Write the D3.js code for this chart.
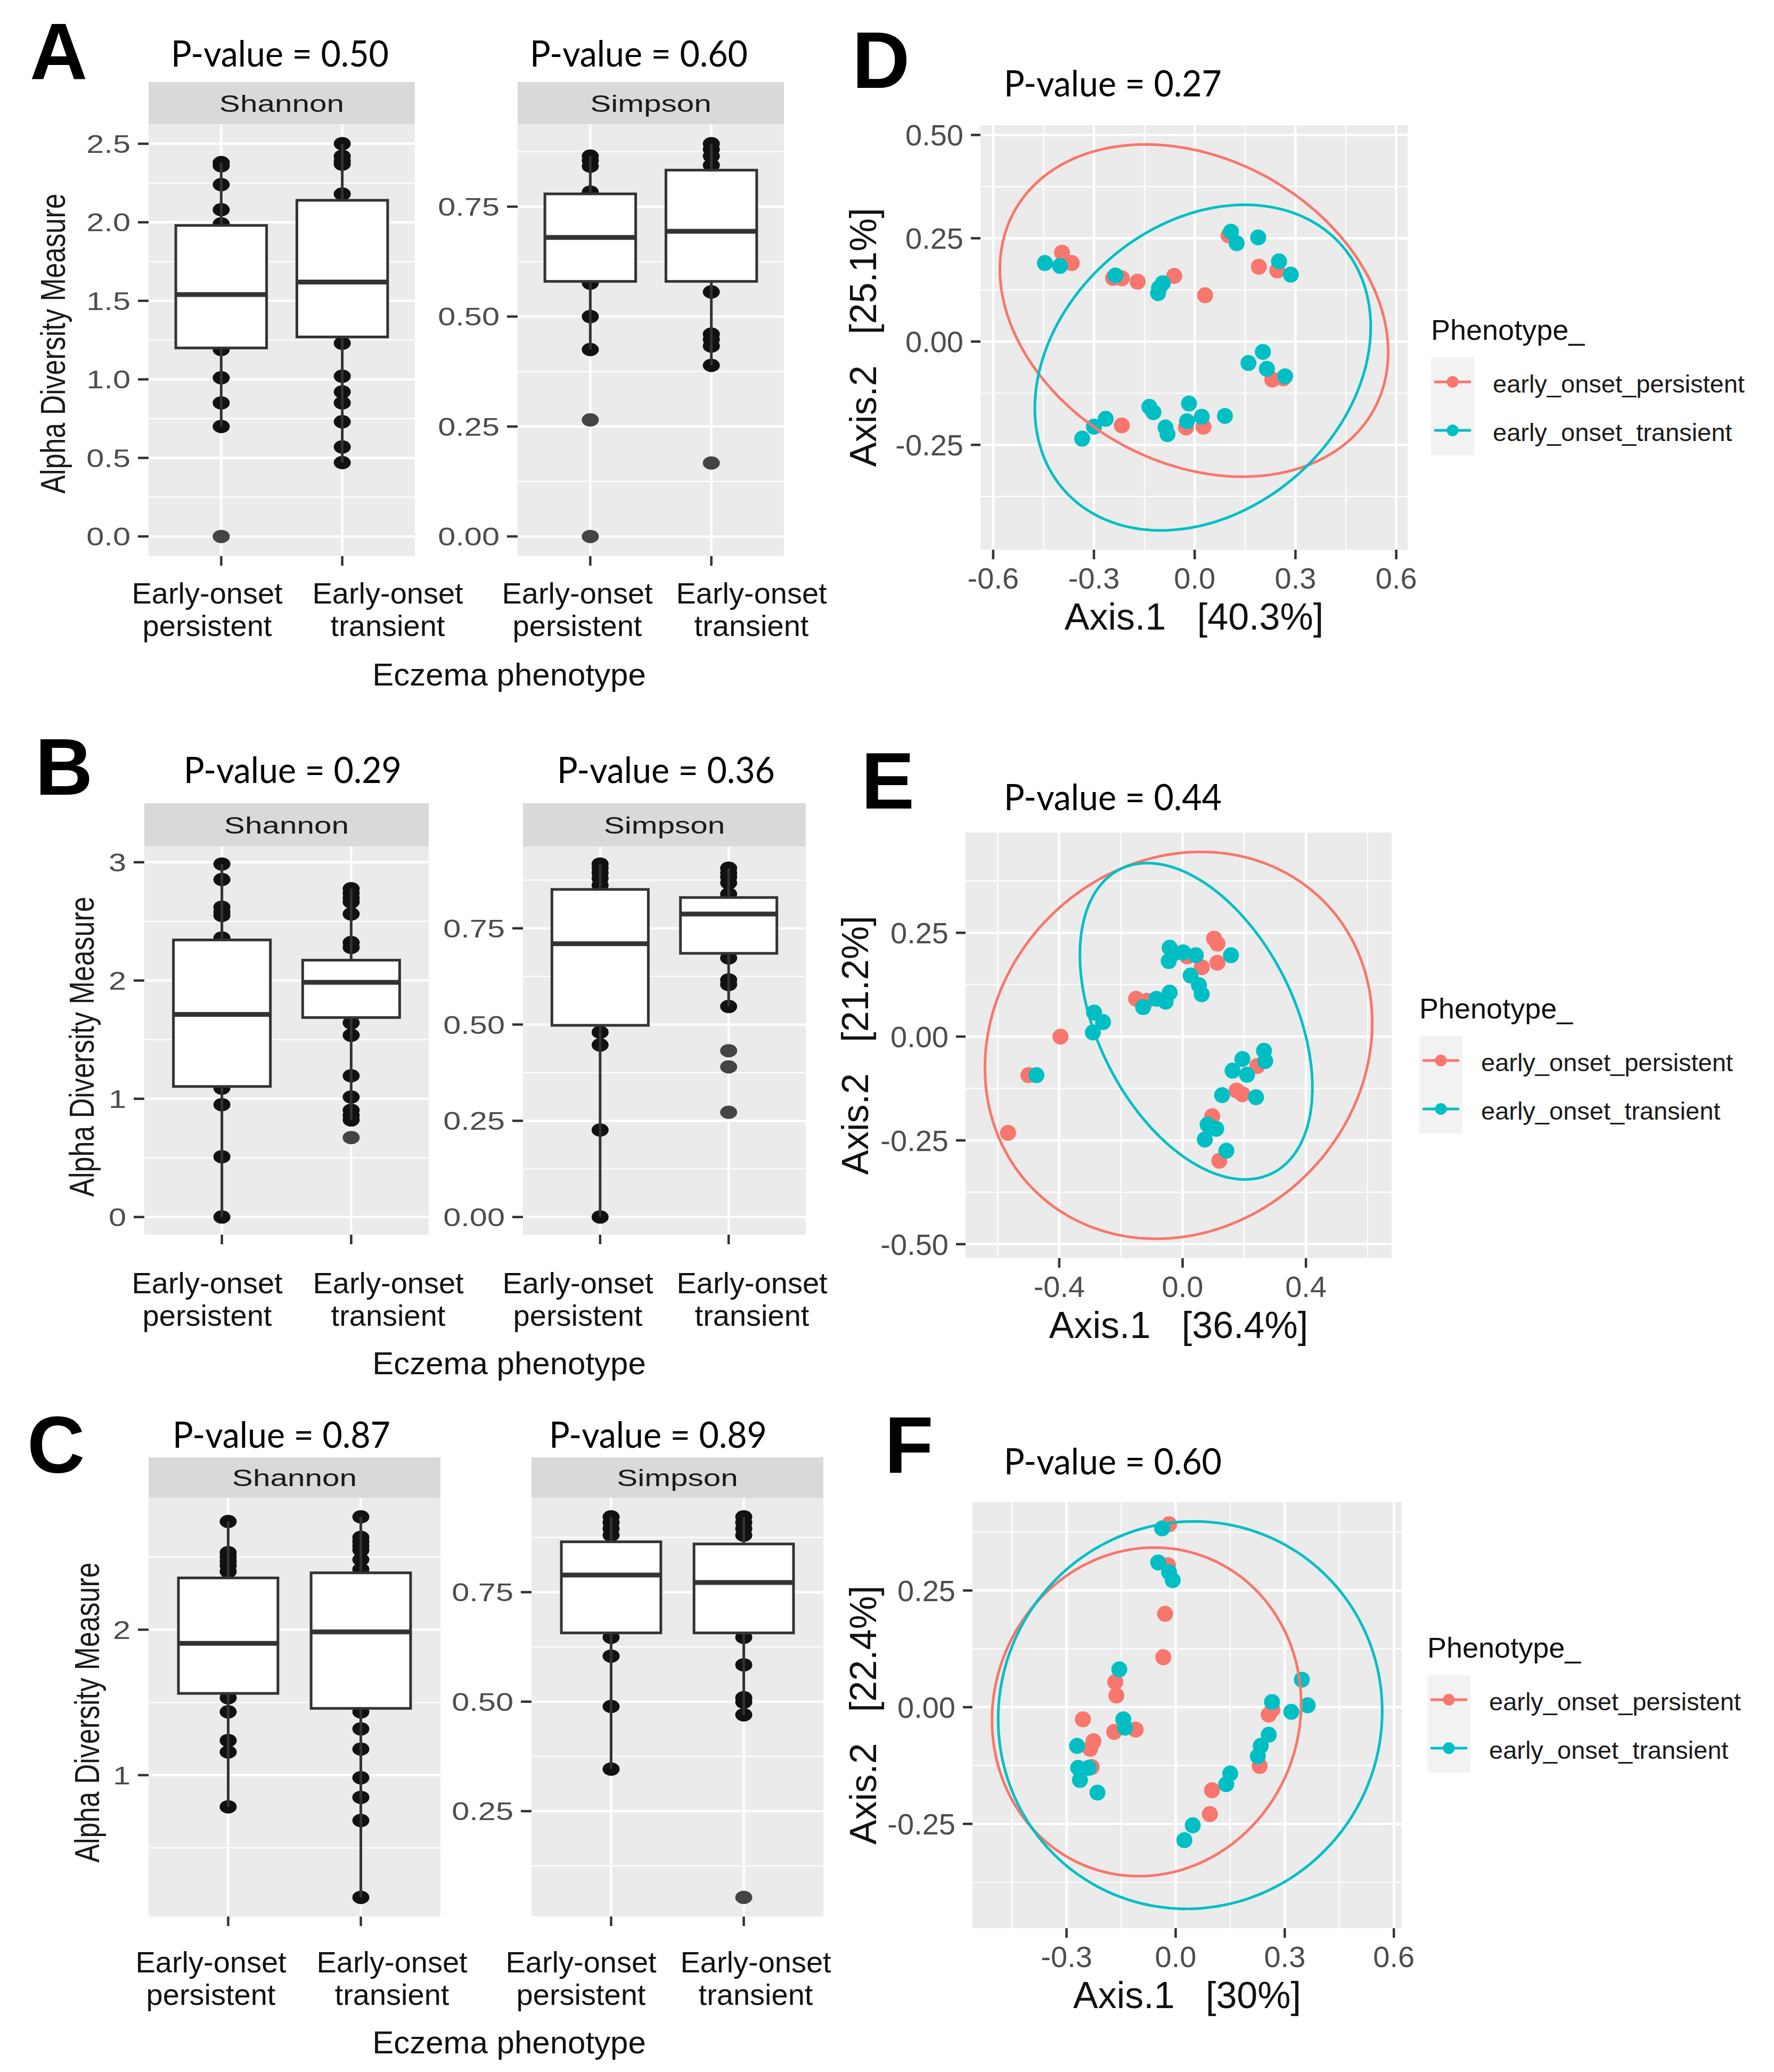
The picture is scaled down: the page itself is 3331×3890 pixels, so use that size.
<!DOCTYPE html>
<html>
<head>
<meta charset="utf-8">
<script src="https://cdn.jsdelivr.net/npm/d3@7"></script>
<style>
  body { margin: 0; background: #fff; }
  svg { display: block; }
</style>
</head>
<body>
<svg id="fig" width="3331" height="3890"></svg>
<script>
// ---- categories ----
const groups = ["persistent", "transient"];
const metrics = ["Shannon", "Simpson"];
const phenotypes = ["early_onset_persistent", "early_onset_transient"];
const colors = ["#F8766D", "#00BFC4"];
const catLabels = [["Early-onset", "persistent"], ["Early-onset", "transient"]];

// ---- alpha diversity, row A ----
const shannonA_pers = [2.38, 2.36, 2.24, 2.08, 1.99, 1.19, 1.01, 0.85, 0.70, 0.00];
const shannonA_trans = [2.50, 2.42, 2.39, 2.37, 2.18, 1.23, 1.02, 0.92, 0.85, 0.73, 0.57, 0.47];
const simpsonA_pers = [0.865, 0.855, 0.842, 0.783, 0.576, 0.50, 0.425, 0.265, 0.0];
const simpsonA_trans = [0.893, 0.880, 0.865, 0.844, 0.556, 0.46, 0.448, 0.433, 0.389, 0.167];
// [lower whisker, q1, median, q3, upper whisker]
const shannonA_box = [[0.70, 1.20, 1.54, 1.98, 2.38], [0.47, 1.27, 1.62, 2.14, 2.50]];
const simpsonA_box = [[0.425, 0.58, 0.68, 0.779, 0.865], [0.389, 0.58, 0.694, 0.833, 0.893]];
const shannonTicksA = [0, 0.5, 1, 1.5, 2, 2.5];
const simpsonTicksA = [0, 0.25, 0.5, 0.75];

// ---- alpha diversity, row B ----
const shannonB_pers = [2.985, 2.854, 2.62, 2.58, 2.55, 2.36, 1.09, 0.95, 0.51, 0.0];
const shannonB_trans = [2.776, 2.739, 2.701, 2.664, 2.563, 2.321, 2.28, 1.642, 1.537, 1.194, 1.015, 0.903, 0.858, 0.821, 0.672];
const simpsonB_pers = [0.917, 0.906, 0.894, 0.880, 0.862, 0.48, 0.447, 0.226, 0.0];
const simpsonB_trans = [0.906, 0.894, 0.883, 0.868, 0.839, 0.673, 0.616, 0.604, 0.547, 0.432, 0.390, 0.272];
const shannonB_box = [[0.0, 1.104, 1.713, 2.343, 2.985], [0.821, 1.687, 1.985, 2.172, 2.776]];
const simpsonB_box = [[0.0, 0.498, 0.71, 0.851, 0.917], [0.547, 0.685, 0.787, 0.830, 0.906]];
const shannonTicksB = [0, 1, 2, 3];
const simpsonTicksB = [0, 0.25, 0.5, 0.75];

// ---- alpha diversity, row C ----
const shannonC_pers = [2.744, 2.53, 2.50, 2.47, 2.44, 2.40, 1.532, 1.435, 1.238, 1.159, 0.782];
const shannonC_trans = [2.776, 2.635, 2.606, 2.576, 2.547, 2.482, 2.415, 1.435, 1.318, 1.179, 0.982, 0.847, 0.688, 0.159];
const simpsonC_pers = [0.922, 0.909, 0.895, 0.880, 0.647, 0.604, 0.489, 0.346];
const simpsonC_trans = [0.922, 0.909, 0.895, 0.880, 0.647, 0.584, 0.509, 0.499, 0.470, 0.053];
const shannonC_box = [[0.782, 1.562, 1.906, 2.356, 2.744], [0.159, 1.459, 1.985, 2.391, 2.776]];
const simpsonC_box = [[0.346, 0.657, 0.789, 0.865, 0.922], [0.470, 0.657, 0.772, 0.860, 0.922]];
const shannonTicksC = [1, 2];
const simpsonTicksC = [0.25, 0.5, 0.75];

// ---- PCoA D ----
const pcoaD_pers = [[-0.395, 0.215], [-0.366, 0.190], [-0.243, 0.154], [-0.217, 0.153], [-0.170, 0.145],
  [-0.061, 0.159], [0.031, 0.112], [0.101, 0.257], [0.191, 0.181], [0.246, 0.172], [0.231, -0.092],
  [0.264, -0.089], [-0.217, -0.203], [-0.026, -0.208], [0.026, -0.206]];
const pcoaD_trans = [[-0.446, 0.190], [-0.401, 0.183], [-0.236, 0.160], [-0.106, 0.130], [-0.095, 0.141],
  [-0.109, 0.117], [0.108, 0.266], [0.125, 0.238], [0.189, 0.252], [0.251, 0.194], [0.286, 0.162],
  [0.160, -0.052], [0.203, -0.025], [0.215, -0.066], [0.269, -0.084], [-0.335, -0.235], [-0.300, -0.206],
  [-0.265, -0.187], [-0.135, -0.158], [-0.123, -0.171], [-0.087, -0.208], [-0.081, -0.224], [-0.017, -0.150],
  [-0.023, -0.193], [0.021, -0.182], [0.090, -0.180]];
// ellipse: [centre x, centre y, half width, half height, cos of phase]
const ellipseD = [[-0.002, 0.075, 0.578, 0.402, -0.25], [0.024, -0.063, 0.50, 0.394, 0.25]];

// ---- PCoA E ----
const pcoaE_pers = [[0.102, 0.236], [0.113, 0.224], [0.113, 0.178], [0.062, 0.167], [0.015, 0.193],
  [-0.151, 0.091], [-0.117, 0.086], [-0.396, 0.0], [-0.50, -0.093], [-0.566, -0.232], [0.242, -0.071],
  [0.175, -0.130], [0.194, -0.139], [0.096, -0.192], [0.119, -0.299]];
const pcoaE_trans = [[-0.042, 0.214], [-0.026, 0.201], [0.002, 0.203], [0.043, 0.196], [-0.045, 0.182],
  [0.157, 0.196], [0.026, 0.147], [0.053, 0.124], [0.062, 0.102], [-0.042, 0.106], [-0.055, 0.084],
  [-0.085, 0.091], [-0.128, 0.071], [-0.287, 0.058], [-0.258, 0.035], [-0.291, 0.010], [-0.474, -0.093],
  [0.264, -0.034], [0.268, -0.059], [0.194, -0.054], [0.209, -0.092], [0.162, -0.082], [0.128, -0.141],
  [0.238, -0.146], [0.081, -0.212], [0.109, -0.222], [0.072, -0.248], [0.142, -0.275]];
const ellipseE = [[-0.013, -0.021, 0.628, 0.466, 0.116], [0.044, 0.037, 0.377, 0.381, -0.42]];

// ---- PCoA F ----
const pcoaF_pers = [[-0.018, 0.392], [-0.021, 0.304], [-0.029, 0.200], [-0.034, 0.107], [-0.166, 0.054],
  [-0.163, 0.025], [-0.255, -0.026], [-0.169, -0.053], [-0.110, -0.048], [-0.226, -0.073], [-0.235, -0.089],
  [-0.231, -0.128], [0.266, -0.005], [0.256, -0.016], [0.231, -0.126], [0.100, -0.178], [0.094, -0.229]];
const pcoaF_trans = [[-0.037, 0.383], [-0.048, 0.310], [-0.018, 0.289], [-0.008, 0.272], [-0.155, 0.081],
  [-0.144, -0.026], [-0.139, -0.044], [-0.271, -0.083], [-0.268, -0.130], [-0.263, -0.156], [-0.239, -0.130],
  [-0.215, -0.183], [0.265, 0.011], [0.318, -0.010], [0.347, 0.059], [0.363, 0.004], [0.256, -0.059],
  [0.234, -0.083], [0.226, -0.105], [0.150, -0.142], [0.139, -0.165], [0.047, -0.253], [0.024, -0.285]];
const ellipseF = [[-0.080, -0.010, 0.425, 0.352, 0.05], [0.040, -0.017, 0.528, 0.415, 0.02]];

const FONT = "'Liberation Sans', Arial, sans-serif";
const svg = d3.select("#fig");
svg.append("rect").attr("width", 3331).attr("height", 3890).attr("fill", "#fff");

function sText(parent, x, y, str, size, sx, anchor, fill) {
  return parent.append("text")
    .attr("transform", `translate(${x},${y}) scale(${sx},1)`)
    .attr("text-anchor", anchor)
    .attr("font-family", FONT)
    .attr("font-size", size)
    .attr("fill", fill)
    .style("white-space", "pre")
    .text(str);
}

function pTitle(x, y, str) {
  svg.append("text").attr("x", x).attr("y", y)
    .attr("font-family", "Lato, 'Open Sans', sans-serif")
    .attr("font-size", 67)
    .attr("textLength", 409).attr("lengthAdjust", "spacingAndGlyphs")
    .attr("fill", "#000").text(str);
}

function panelLetter(x, y, str) {
  svg.append("text").attr("x", x).attr("y", y)
    .attr("font-family", FONT).attr("font-weight", "bold")
    .attr("font-size", 150).attr("fill", "#000").text(str);
}

function minorTicks(ticks, domain) {
  const step = ticks.length > 1 ? ticks[1] - ticks[0] : 1;
  const lo = Math.min(...domain), hi = Math.max(...domain);
  return d3.range(ticks[0] - step * 4.5, ticks[ticks.length - 1] + step * 5, step)
    .filter(v => v > lo && v < hi);
}

// ---------- box plot rows ----------
const boxRows = [
  { letter: "A", lx: 56, ly: 148, titles: ["P-value = 0.50", "P-value = 0.60"], tx: [321, 995], ty: 125,
    strips: [[279, 779], [972, 1472]], stripTop: 154, top: 233, bottom: 1044,
    values: [[shannonA_pers, shannonA_trans], [simpsonA_pers, simpsonA_trans]],
    boxes: [shannonA_box, simpsonA_box], ticks: [shannonTicksA, simpsonTicksA], fmt: [1, 2],
    labX: [389, 728, 1084, 1411], labY: 1133, ecY: 1287, ytX: 122, ytY: 645 },
  { letter: "B", lx: 66, ly: 1492, titles: ["P-value = 0.29", "P-value = 0.36"], tx: [345, 1046], ty: 1470,
    strips: [[271, 805], [982, 1513]], stripTop: 1508, top: 1589, bottom: 2318,
    values: [[shannonB_pers, shannonB_trans], [simpsonB_pers, simpsonB_trans]],
    boxes: [shannonB_box, simpsonB_box], ticks: [shannonTicksB, simpsonTicksB], fmt: [0, 2],
    labX: [389, 729, 1085, 1412], labY: 2428, ecY: 2580, ytX: 176, ytY: 1965 },
  { letter: "C", lx: 51, ly: 2765, titles: ["P-value = 0.87", "P-value = 0.89"], tx: [324, 1031], ty: 2718,
    strips: [[279, 827], [998, 1546]], stripTop: 2736, top: 2812, bottom: 3598,
    values: [[shannonC_pers, shannonC_trans], [simpsonC_pers, simpsonC_trans]],
    boxes: [shannonC_box, simpsonC_box], ticks: [shannonTicksC, simpsonTicksC], fmt: [0, 2],
    labX: [396, 736, 1091, 1419], labY: 3703, ecY: 3855, ytX: 186, ytY: 3215 }
];

function boxPanel(row, k) {
  const [x0, x1] = row.strips[k];
  const vals = row.values[k];
  const stats = row.boxes[k];
  const ticks = row.ticks[k];
  const all = vals.flat();
  const lo = d3.min(all), hi = d3.max(all), pad = (hi - lo) * 0.05;
  const y = d3.scaleLinear().domain([lo - pad, hi + pad]).range([row.bottom, row.top]);
  const x = d3.scalePoint().domain(groups).range([x0, x1]).padding(0.6);
  const bw = x.step() * 0.75;
  const g = svg.append("g");

  // strip
  g.append("rect").attr("x", x0).attr("y", row.stripTop)
    .attr("width", x1 - x0).attr("height", row.top - row.stripTop).attr("fill", "#d9d9d9");
  sText(g, (x0 + x1) / 2, (row.stripTop + row.top) / 2 + 16, metrics[k], 44, 1.33, "middle", "#1a1a1a");

  // panel + grid
  g.append("rect").attr("x", x0).attr("y", row.top)
    .attr("width", x1 - x0).attr("height", row.bottom - row.top).attr("fill", "#ebebeb");
  g.selectAll(".minor").data(minorTicks(ticks, y.domain())).enter().append("line")
    .attr("x1", x0).attr("x2", x1).attr("y1", d => y(d)).attr("y2", d => y(d))
    .attr("stroke", "#fff").attr("stroke-width", 2.2);
  g.selectAll(".major").data(ticks).enter().append("line")
    .attr("x1", x0).attr("x2", x1).attr("y1", d => y(d)).attr("y2", d => y(d))
    .attr("stroke", "#fff").attr("stroke-width", 4.5);
  g.selectAll(".vgrid").data(groups).enter().append("line")
    .attr("x1", d => x(d)).attr("x2", d => x(d)).attr("y1", row.top).attr("y2", row.bottom)
    .attr("stroke", "#fff").attr("stroke-width", 4.5);

  // y axis
  const ya = g.append("g");
  ya.selectAll("line").data(ticks).enter().append("line")
    .attr("x1", x0 - 20).attr("x2", x0).attr("y1", d => y(d)).attr("y2", d => y(d))
    .attr("stroke", "#333").attr("stroke-width", 4.5);
  ticks.forEach(t => sText(ya, x0 - 34, y(t) + 17, t.toFixed(row.fmt[k]), 48, 1.24, "end", "#4d4d4d"));
  // x axis ticks
  g.selectAll(".xt").data(groups).enter().append("line")
    .attr("x1", d => x(d)).attr("x2", d => x(d)).attr("y1", row.bottom).attr("y2", row.bottom + 18)
    .attr("stroke", "#333").attr("stroke-width", 4.5);

  groups.forEach((grp, i) => {
    const cx = x(grp), s = stats[i];
    // points underneath the box
    g.selectAll(null).data(vals[i].filter(v => v >= s[0] && v <= s[4])).enter().append("ellipse")
      .attr("cx", cx).attr("cy", d => y(d)).attr("rx", 16).attr("ry", 12.5).attr("fill", "#111");
    // whiskers
    g.append("line").attr("x1", cx).attr("x2", cx).attr("y1", y(s[0])).attr("y2", y(s[1]))
      .attr("stroke", "#333").attr("stroke-width", 5);
    g.append("line").attr("x1", cx).attr("x2", cx).attr("y1", y(s[3])).attr("y2", y(s[4]))
      .attr("stroke", "#333").attr("stroke-width", 5);
    // box
    g.append("rect").attr("x", cx - bw / 2).attr("y", y(s[3]))
      .attr("width", bw).attr("height", y(s[1]) - y(s[3]))
      .attr("fill", "#fff").attr("stroke", "#333").attr("stroke-width", 5);
    g.append("line").attr("x1", cx - bw / 2).attr("x2", cx + bw / 2)
      .attr("y1", y(s[2])).attr("y2", y(s[2])).attr("stroke", "#333").attr("stroke-width", 9);
    // outliers
    g.selectAll(null).data(vals[i].filter(v => v < s[0] || v > s[4])).enter().append("ellipse")
      .attr("cx", cx).attr("cy", d => y(d)).attr("rx", 16).attr("ry", 12.5).attr("fill", "#444");
  });
}

boxRows.forEach(row => {
  panelLetter(row.lx, row.ly, row.letter);
  row.titles.forEach((t, k) => pTitle(row.tx[k], row.ty, t));
  boxPanel(row, 0);
  boxPanel(row, 1);
  row.labX.forEach((lx, i) => {
    const lab = catLabels[i % 2];
    sText(svg, lx, row.labY, lab[0], 56, 1, "middle", "#111");
    sText(svg, lx, row.labY + 61, lab[1], 56, 1, "middle", "#111");
  });
  sText(svg, 956, row.ecY, "Eczema phenotype", 60, 1, "middle", "#111");
  svg.append("text")
    .attr("transform", `translate(${row.ytX},${row.ytY}) rotate(-90) scale(1,1.25)`)
    .attr("text-anchor", "middle").attr("font-family", FONT).attr("font-size", 52)
    .attr("fill", "#1a1a1a").text("Alpha Diversity Measure");
});

// ---------- PCoA panels ----------
const pcoaRows = [
  { letter: "D", lx: 1600, ly: 165, title: "P-value = 0.27", tx: 1885, ty: 181,
    x0: 1841, x1: 2643, top: 235, bottom: 1032, pts: [pcoaD_pers, pcoaD_trans], ell: ellipseD,
    xt: [-0.6, -0.3, 0, 0.3, 0.6], yt: [-0.25, 0, 0.25, 0.5], ytX: 1645,
    xlab: "Axis.1   [40.3%]", ylab: "Axis.2   [25.1%]", legX: 2687, legY: 638 },
  { letter: "E", lx: 1617, ly: 1518, title: "P-value = 0.44", tx: 1885, ty: 1521,
    x0: 1813, x1: 2613, top: 1563, bottom: 2362, pts: [pcoaE_pers, pcoaE_trans], ell: ellipseE,
    xt: [-0.4, 0, 0.4], yt: [-0.5, -0.25, 0, 0.25], ytX: 1630,
    xlab: "Axis.1   [36.4%]", ylab: "Axis.2   [21.2%]", legX: 2665, legY: 1912 },
  { letter: "F", lx: 1661, ly: 2765, title: "P-value = 0.60", tx: 1885, ty: 2768,
    x0: 1826, x1: 2632, top: 2820, bottom: 3620, pts: [pcoaF_pers, pcoaF_trans], ell: ellipseF,
    xt: [-0.3, 0, 0.3, 0.6], yt: [-0.25, 0, 0.25], ytX: 1645,
    xlab: "Axis.1   [30%]", ylab: "Axis.2   [22.4%]", legX: 2680, legY: 3112 }
];

function ellipsePoints(e) {
  const [cx, cy, ax, ay, c] = e;
  const phi = Math.acos(c);
  return d3.range(0, 2 * Math.PI + 0.001, Math.PI / 90)
    .map(t => [cx + ax * Math.cos(t), cy + ay * Math.cos(t + phi)]);
}

function pcoaPanel(row) {
  const ells = row.ell.map(ellipsePoints);
  const allPts = row.pts.flat().concat(ells.flat());
  const [xmin, xmax] = d3.extent(allPts, d => d[0]);
  const [ymin, ymax] = d3.extent(allPts, d => d[1]);
  const px = (xmax - xmin) * 0.05, py = (ymax - ymin) * 0.05;
  const x = d3.scaleLinear().domain([xmin - px, xmax + px]).range([row.x0, row.x1]);
  const y = d3.scaleLinear().domain([ymin - py, ymax + py]).range([row.bottom, row.top]);
  const g = svg.append("g");

  g.append("rect").attr("x", row.x0).attr("y", row.top)
    .attr("width", row.x1 - row.x0).attr("height", row.bottom - row.top).attr("fill", "#ebebeb");
  g.selectAll(".mx").data(minorTicks(row.xt, x.domain())).enter().append("line")
    .attr("x1", d => x(d)).attr("x2", d => x(d)).attr("y1", row.top).attr("y2", row.bottom)
    .attr("stroke", "#fff").attr("stroke-width", 2.2);
  g.selectAll(".my").data(minorTicks(row.yt, y.domain())).enter().append("line")
    .attr("x1", row.x0).attr("x2", row.x1).attr("y1", d => y(d)).attr("y2", d => y(d))
    .attr("stroke", "#fff").attr("stroke-width", 2.2);
  g.selectAll(".Mx").data(row.xt).enter().append("line")
    .attr("x1", d => x(d)).attr("x2", d => x(d)).attr("y1", row.top).attr("y2", row.bottom)
    .attr("stroke", "#fff").attr("stroke-width", 4.5);
  g.selectAll(".My").data(row.yt).enter().append("line")
    .attr("x1", row.x0).attr("x2", row.x1).attr("y1", d => y(d)).attr("y2", d => y(d))
    .attr("stroke", "#fff").attr("stroke-width", 4.5);

  // axes
  g.selectAll(".tx").data(row.xt).enter().append("line")
    .attr("x1", d => x(d)).attr("x2", d => x(d)).attr("y1", row.bottom).attr("y2", row.bottom + 18)
    .attr("stroke", "#333").attr("stroke-width", 4.5);
  row.xt.forEach(t => sText(g, x(t), row.bottom + 73, t.toFixed(1), 56, 1, "middle", "#4d4d4d"));
  g.selectAll(".ty").data(row.yt).enter().append("line")
    .attr("x1", row.x0 - 18).attr("x2", row.x0).attr("y1", d => y(d)).attr("y2", d => y(d))
    .attr("stroke", "#333").attr("stroke-width", 4.5);
  row.yt.forEach(t => sText(g, row.x0 - 32, y(t) + 20, t.toFixed(2), 56, 1, "end", "#4d4d4d"));

  sText(g, (row.x0 + row.x1) / 2, row.bottom + 150, row.xlab, 70, 1, "middle", "#111");
  g.append("text")
    .attr("transform", `translate(${row.ytX},${(row.top + row.bottom) / 2}) rotate(-90)`)
    .attr("text-anchor", "middle").attr("font-family", FONT).attr("font-size", 70)
    .attr("fill", "#111").style("white-space", "pre").text(row.ylab);

  // points then ellipses
  row.pts.forEach((pts, i) => {
    g.selectAll(null).data(pts).enter().append("circle")
      .attr("cx", d => x(d[0])).attr("cy", d => y(d[1])).attr("r", 15).attr("fill", colors[i]);
  });
  const line = d3.line().x(d => x(d[0])).y(d => y(d[1])).curve(d3.curveLinearClosed);
  ells.forEach((e, i) => {
    g.append("path").attr("d", line(e)).attr("fill", "none")
      .attr("stroke", colors[i]).attr("stroke-width", 5);
  });

  // legend
  const lg = svg.append("g");
  sText(lg, row.legX, row.legY, "Phenotype_", 54, 1, "start", "#111");
  phenotypes.forEach((p, i) => {
    const ky = row.legY + 79 + i * 91;
    lg.append("rect").attr("x", row.legX).attr("y", ky - 46).attr("width", 81).attr("height", 92)
      .attr("fill", "#f2f2f2");
    lg.append("line").attr("x1", row.legX + 6).attr("x2", row.legX + 75).attr("y1", ky).attr("y2", ky)
      .attr("stroke", colors[i]).attr("stroke-width", 5);
    lg.append("circle").attr("cx", row.legX + 40.5).attr("cy", ky).attr("r", 11).attr("fill", colors[i]);
    sText(lg, row.legX + 116, ky + 20, p, 47, 1, "start", "#1a1a1a");
  });
}

pcoaRows.forEach(row => {
  panelLetter(row.lx, row.ly, row.letter);
  pTitle(row.tx, row.ty, row.title);
  pcoaPanel(row);
});
</script>
</body>
</html>
